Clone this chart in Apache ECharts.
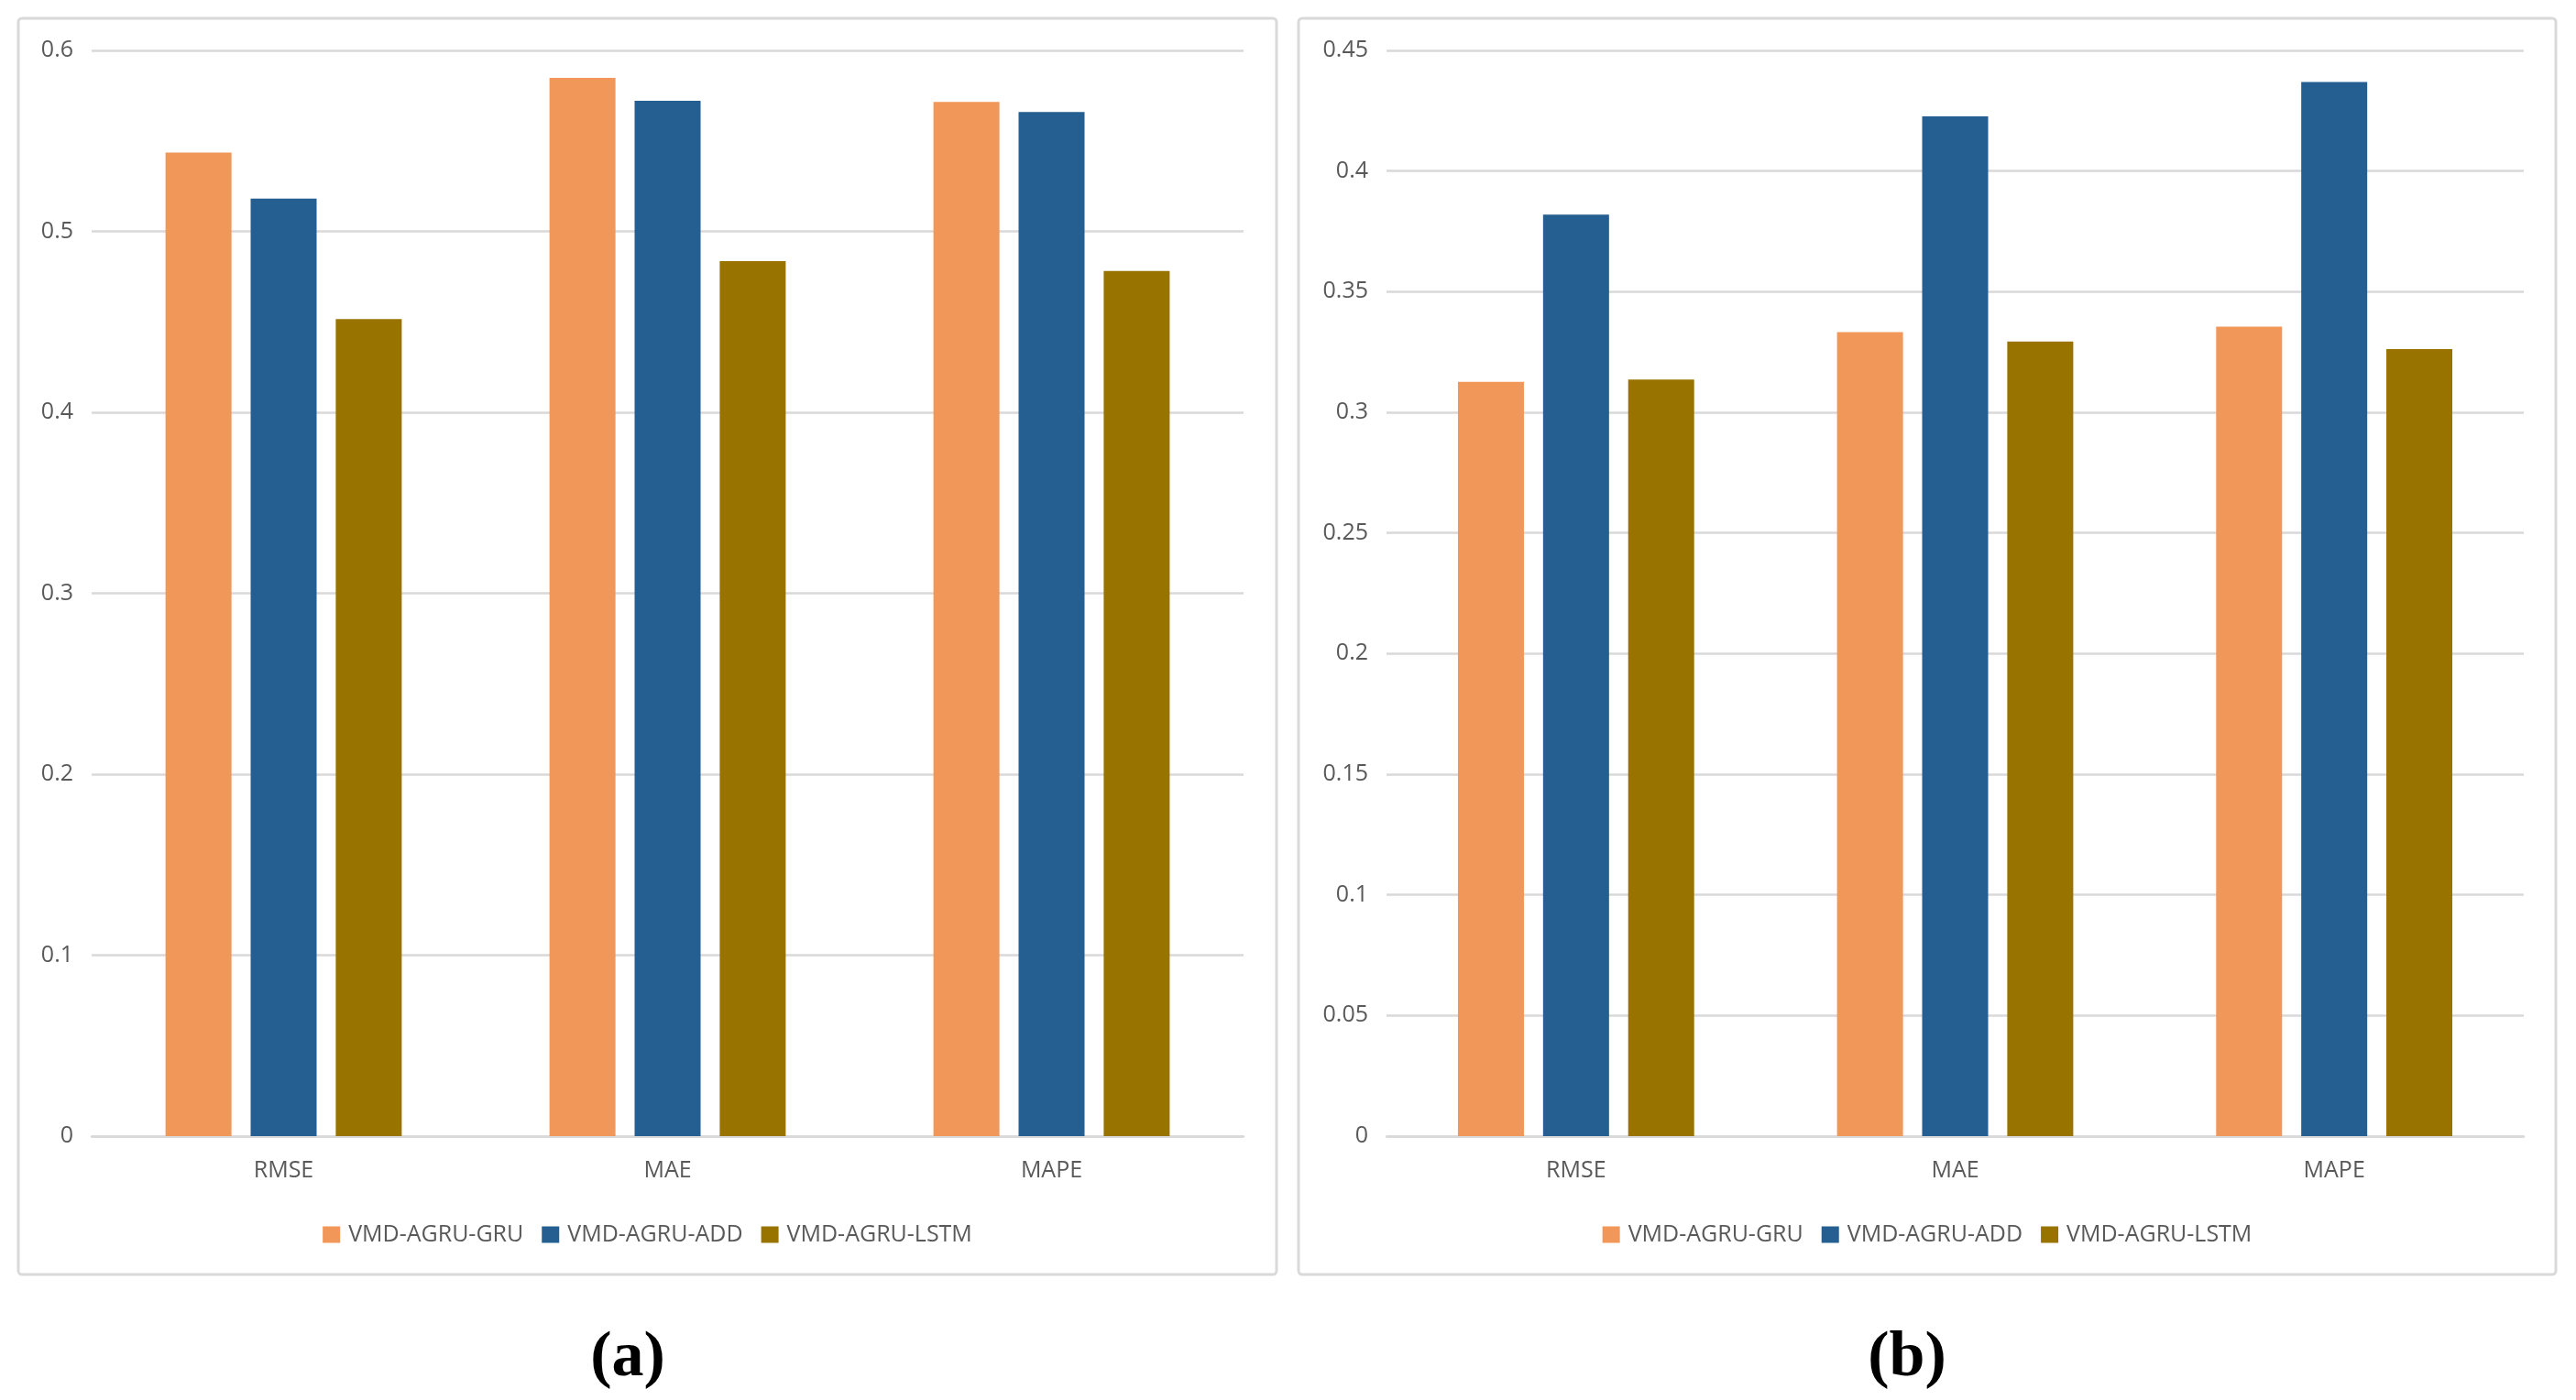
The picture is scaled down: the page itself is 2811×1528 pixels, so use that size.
<!DOCTYPE html>
<html>
<head>
<meta charset="utf-8">
<script src="https://cdn.jsdelivr.net/npm/echarts@6/dist/echarts.min.js"></script>
<style>
  html, body { margin: 0; padding: 0; background: #ffffff; }
  #wrap { position: relative; width: 2811px; height: 1528px; overflow: hidden; }
  .panel { position: absolute; top: 0; height: 1528px; }
  #chartA { left: 0px; width: 1413px; }
  #chartB { left: 1398px; width: 1410px; }
</style>
</head>
<body>
<div id="wrap">
  <div id="chartA" class="panel"></div>
  <div id="chartB" class="panel"></div>
</div>
<script>
// ---- data ----
const categories = ['RMSE', 'MAE', 'MAPE'];
const seriesNames = ['VMD-AGRU-GRU', 'VMD-AGRU-ADD', 'VMD-AGRU-LSTM'];

// panel (a)
const gruA  = [0.5435, 0.5848, 0.5715];
const addA  = [0.5181, 0.5722, 0.5659];
const lstmA = [0.4515, 0.4835, 0.4781];
const yTicksA = [0, 0.1, 0.2, 0.3, 0.4, 0.5, 0.6];

// panel (b)
const gruB  = [0.3126, 0.3332, 0.3355];
const addB  = [0.3819, 0.4227, 0.4369];
const lstmB = [0.3136, 0.3293, 0.3262];
const yTicksB = [0, 0.05, 0.1, 0.15, 0.2, 0.25, 0.3, 0.35, 0.4, 0.45];

const captions = ['(a)', '(b)'];

// ---- styles ----
const colors = ['#F1975A', '#255E91', '#997300'];
const textColor = '#595959';
const gridColor = '#D9D9D9';
const fontFamily = '"Open Sans", "Noto Sans", sans-serif';

function buildOption(cfg) {
  const values = cfg.values;
  const ticks = cfg.ticks;
  return {
    backgroundColor: 'transparent',
    animation: false,
    textStyle: { fontFamily: fontFamily },
    graphic: [
      {
        type: 'rect',
        shape: { x: cfg.frame[0], y: cfg.frame[1], width: cfg.frame[2], height: cfg.frame[3], r: 4 },
        style: { fill: '#ffffff', stroke: gridColor, lineWidth: 3 },
        z: -10
      },
      {
        type: 'text',
        x: cfg.captionX,
        y: 1483,
        style: {
          text: cfg.caption,
          font: 'bold 70px "Liberation Serif", "DejaVu Serif", serif',
          fill: '#000000',
          textAlign: 'center',
          textVerticalAlign: 'middle'
        }
      }
    ],
    legend: {
      data: seriesNames,
      left: 'center',
      top: 1330,
      itemWidth: 19,
      itemHeight: 18,
      itemGap: 20,
      icon: 'rect',
      textStyle: { color: textColor, fontSize: 25, fontFamily: fontFamily, padding: [0, 0, 0, 4] }
    },
    grid: {
      left: cfg.gridLeft,
      top: 55,
      width: cfg.gridWidth,
      height: 1185,
      containLabel: false
    },
    xAxis: {
      type: 'category',
      data: categories,
      axisLine: { show: true, lineStyle: { color: gridColor, width: 2.5 } },
      axisTick: { show: false },
      axisLabel: { color: textColor, fontSize: 25, margin: 25, fontFamily: fontFamily },
      splitLine: { show: false }
    },
    yAxis: {
      type: 'value',
      min: ticks[0],
      max: ticks[ticks.length - 1],
      interval: ticks[1] - ticks[0],
      axisLine: { show: false },
      axisTick: { show: false },
      axisLabel: {
        color: textColor, fontSize: 25, margin: 20, fontFamily: fontFamily,
        formatter: function (v) { return String(parseFloat(v.toFixed(4))); }
      },
      splitLine: { show: true, lineStyle: { color: gridColor, width: 2.5 } }
    },
    series: seriesNames.map(function (name, i) {
      return {
        name: name,
        type: 'bar',
        data: values[i],
        barWidth: 72,
        barGap: '29%',
        itemStyle: { color: colors[i] },
        z: 3
      };
    })
  };
}

const chartA = echarts.init(document.getElementById('chartA'), null, { renderer: 'canvas' });
chartA.setOption(buildOption({
  values: [gruA, addA, lstmA],
  ticks: yTicksA,
  gridLeft: 100,
  gridWidth: 1257,
  frame: [20, 20, 1373, 1371],
  caption: captions[0],
  captionX: 685
}));

const chartB = echarts.init(document.getElementById('chartB'), null, { renderer: 'canvas' });
chartB.setOption(buildOption({
  values: [gruB, addB, lstmB],
  ticks: yTicksB,
  gridLeft: 1513 - 1398,
  gridWidth: 1241,
  frame: [1417 - 1398, 20, 1372, 1371],
  caption: captions[1],
  captionX: 2081 - 1398
}));
</script>
</body>
</html>
